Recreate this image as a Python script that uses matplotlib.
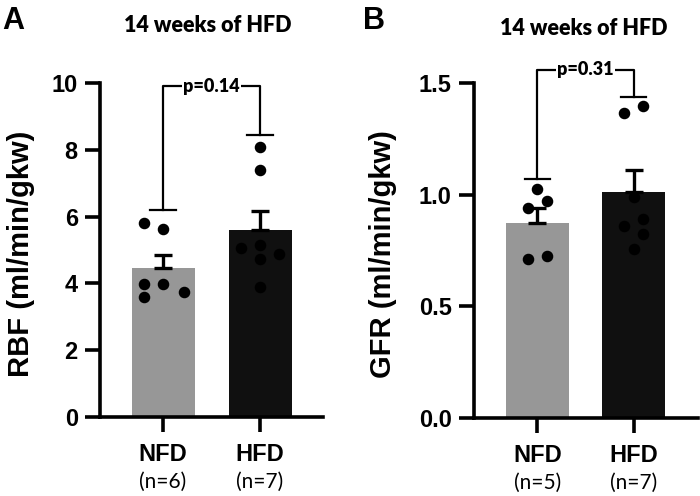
import numpy as np
import matplotlib
matplotlib.use("Agg")
import matplotlib.pyplot as plt

# data
groups = ["NFD", "HFD"]
rbf_nfd = [5.82, 5.62, 3.98, 3.97, 3.60, 3.73]
rbf_hfd = [8.09, 7.38, 5.05, 5.15, 4.72, 4.87, 3.90]
gfr_nfd = [1.026, 0.974, 0.939, 0.711, 0.727]
gfr_hfd = [1.366, 1.400, 0.991, 0.891, 0.860, 0.823, 0.755]
rbf_bracket = [6.2, 9.9, 8.44]     # left foot, top, right foot
gfr_bracket = [1.071, 1.56, 1.44]
rbf_p = "p=0.14"
gfr_p = "p=0.31"
title = "14 weeks of HFD"

# horizontal scatter of the dots (jitter)
rbf_jit = ([-0.2, 0, -0.2, 0, -0.2, 0.22], [0, 0, -0.2, 0, 0, 0.2, 0])
gfr_jit = ([0, 0.1, -0.1, -0.1, 0.1], [-0.1, 0.1, 0, 0.1, -0.1, 0.1, 0])

BAR_COLORS = ["#979797", "#101010"]
LW = 2.6
ARIAL = "Liberation Sans"
CALIBRI = "Lato"


def panel(ax, nfd, hfd, jit, bracket, ptext, ylim, yticks, ylabel, xlim):
    data = [nfd, hfd]
    x = np.arange(2)
    means = [np.mean(d) for d in data]
    sems = [np.std(d, ddof=1) / np.sqrt(len(d)) for d in data]

    ax.bar(x, means, 0.65, color=BAR_COLORS, zorder=1)
    for i in range(2):
        ax.errorbar(x[i], means[i], yerr=[[0], [sems[i]]], color="black",
                    elinewidth=2.4, capsize=6.5, capthick=2.4, zorder=2)
        ax.plot(x[i] + np.array(jit[i]), data[i], "o", color="black",
                markersize=7.3, zorder=3, clip_on=False)

    # significance bracket
    lb, top, rb = bracket
    ax.plot([0, 0, 1, 1], [lb, top, top, rb], color="black", lw=1.6,
            zorder=2, clip_on=False)
    ax.plot([-0.13, 0.13], [lb, lb], color="black", lw=1.6, clip_on=False)
    ax.plot([0.87, 1.13], [rb, rb], color="black", lw=1.6, clip_on=False)
    ax.text(0.5, top, ptext, ha="center", va="center", fontsize=13,
            fontweight="heavy", family=CALIBRI, zorder=4,
            bbox=dict(facecolor="white", edgecolor="none", pad=1.0))

    ax.set_xlim(xlim)
    ax.set_ylim(ylim)
    ax.set_yticks(yticks)
    ax.set_xticks(x)
    ax.set_xticklabels(groups, fontsize=17, fontweight="bold", family=ARIAL)
    for lab in ax.get_yticklabels():
        lab.set_fontsize(17)
        lab.set_fontweight("bold")
        lab.set_family(ARIAL)
    ax.tick_params(width=LW, length=11, pad=5)
    ax.tick_params(axis="x", pad=8)
    for s in ["top", "right"]:
        ax.spines[s].set_visible(False)
    for s in ["left", "bottom"]:
        ax.spines[s].set_linewidth(LW)
    ax.set_ylabel(ylabel, fontsize=21, fontweight="bold", family=ARIAL)

    for i, d in enumerate(data):
        ax.text(x[i], -0.195, "(n=%d)" % len(d), transform=ax.get_xaxis_transform(),
                ha="center", va="center", fontsize=15, family=CALIBRI)


fig = plt.figure(figsize=(7, 4.96), dpi=100)
axA = fig.add_axes([0.1429, 0.1593, 0.3186, 0.6734])
axB = fig.add_axes([0.6771, 0.1579, 0.32, 0.6742])

panel(axA, rbf_nfd, rbf_hfd, rbf_jit, rbf_bracket, rbf_p, (0, 10),
      [0, 2, 4, 6, 8, 10], "RBF (ml/min/gkw)", (-0.65, 1.65))
panel(axB, gfr_nfd, gfr_hfd, gfr_jit, gfr_bracket, gfr_p, (0, 1.5),
      [0.0, 0.5, 1.0, 1.5], "GFR (ml/min/gkw)", (-0.66, 1.67))
axB.set_yticklabels(["0.0", "0.5", "1.0", "1.5"])
for lab in axB.get_yticklabels():
    lab.set_fontsize(17)
    lab.set_fontweight("bold")
    lab.set_family(ARIAL)

axA.yaxis.set_label_coords(-0.29, 0.49)
axB.yaxis.set_label_coords(-0.345, 0.49)

axA.text(0.484, 1.171, title, transform=axA.transAxes, ha="center",
         va="center", fontsize=15.5, fontweight="heavy", family=CALIBRI)
axB.text(0.49, 1.165, title, transform=axB.transAxes, ha="center",
         va="center", fontsize=15.5, fontweight="heavy", family=CALIBRI)

fig.text(0.003, 0.988, "A", ha="left", va="top", fontsize=22,
         fontweight="bold", family=ARIAL)
fig.text(0.519, 0.988, "B", ha="left", va="top", fontsize=22,
         fontweight="bold", family=ARIAL)

fig.savefig("out.png", dpi=100)
